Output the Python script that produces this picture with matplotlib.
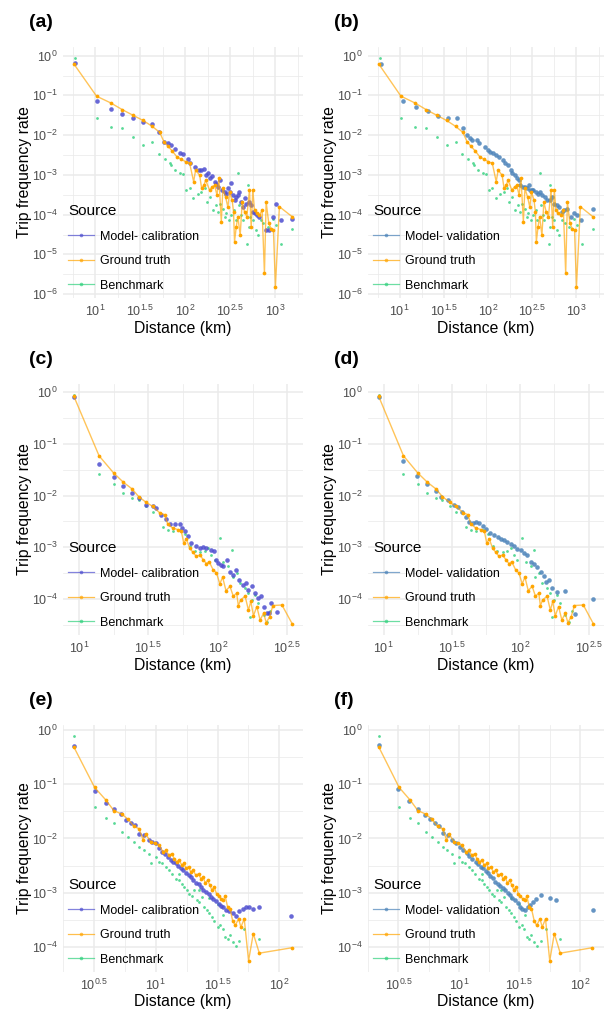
import numpy as np
import matplotlib.pyplot as plt
from matplotlib.lines import Line2D
from matplotlib.ticker import FixedLocator, FixedFormatter, NullFormatter

plt.rcParams['font.family'] = ['Liberation Sans', 'DejaVu Sans']
plt.rcParams['mathtext.fontset'] = 'custom'
plt.rcParams['mathtext.rm'] = 'Liberation Sans'
plt.rcParams['mathtext.it'] = 'Liberation Sans:italic'
plt.rcParams['mathtext.bf'] = 'Liberation Sans:bold'

# all values are log10 (distance km, trip frequency rate)

# row 1 (a, b)
gt1_x = [0.763, 1.014, 1.172, 1.301, 1.419, 1.530, 1.633, 1.715, 1.763, 1.807, 1.855, 1.908, 1.956, 2.004, 2.048,
         2.092, 2.114, 2.159, 2.181, 2.207, 2.225, 2.269, 2.299, 2.325, 2.351, 2.373, 2.399, 2.417, 2.446, 2.472,
         2.491, 2.520, 2.535, 2.546, 2.565, 2.583, 2.609, 2.631, 2.657, 2.683, 2.712, 2.731, 2.749, 2.768, 2.793,
         2.823, 2.852, 2.878, 2.897, 2.926, 2.952, 2.978, 3.000, 3.044, 3.185]
gt1_y = [-0.21, -1.02, -1.19, -1.36, -1.50, -1.63, -1.78, -1.93, -2.17, -2.28, -2.40, -2.55, -2.61, -2.67, -2.71,
         -3.17, -2.88, -3.01, -3.34, -3.26, -3.13, -3.38, -3.30, -3.26, -3.51, -3.09, -4.18, -3.34, -3.55, -3.81,
         -3.43, -3.64, -3.93, -4.68, -4.31, -4.05, -4.52, -3.68, -3.93, -4.05, -3.38, -4.31, -3.38, -3.89, -3.97,
         -4.01, -3.89, -5.48, -3.68, -4.22, -4.35, -4.39, -5.81, -3.80, -4.05]
bm1_x = [0.774, 1.014, 1.172, 1.297, 1.419, 1.530, 1.633, 1.707, 1.770, 1.826, 1.845, 1.882, 1.937, 1.974, 2.011,
         2.048, 2.085, 2.140, 2.177, 2.214, 2.240, 2.269, 2.306, 2.336, 2.362, 2.387, 2.417, 2.435, 2.454, 2.483,
         2.509, 2.539, 2.557, 2.583, 2.594, 2.620, 2.638, 2.657, 2.683, 2.690, 2.697, 2.705, 2.720, 2.749, 2.779,
         2.804, 2.841, 2.867, 2.915, 2.970, 3.007, 3.063, 3.185]
bm1_y = [-0.07, -1.58, -1.79, -1.82, -2.05, -2.26, -2.17, -2.47, -2.59, -2.70, -2.76, -2.88, -2.96, -2.98, -3.38,
         -3.34, -3.59, -3.48, -3.43, -3.34, -3.68, -3.55, -3.89, -3.76, -3.93, -3.72, -3.85, -4.05, -3.97, -4.14,
         -4.01, -3.89, -4.14, -2.96, -3.76, -4.01, -4.14, -3.93, -4.06, -4.73, -3.26, -4.31, -4.06, -4.14, -4.39,
         -4.52, -4.14, -4.22, -4.31, -4.10, -4.27, -4.73, -4.35]
mc1_x = [0.774, 1.014, 1.172, 1.297, 1.419, 1.530, 1.633, 1.707, 1.763, 1.807, 1.845, 1.882, 1.937, 1.974, 2.030,
         2.055, 2.103, 2.151, 2.177, 2.203, 2.232, 2.251, 2.269, 2.299, 2.325, 2.343, 2.362, 2.380, 2.410, 2.435,
         2.454, 2.472, 2.491, 2.509, 2.528, 2.546, 2.565, 2.583, 2.601, 2.620, 2.638, 2.657, 2.675, 2.705, 2.731,
         2.749, 2.768, 2.793, 2.823, 2.897, 2.934, 2.978, 3.007, 3.063, 3.185]
mc1_y = [-0.18, -1.14, -1.34, -1.46, -1.58, -1.67, -1.71, -1.93, -2.17, -2.21, -2.25, -2.36, -2.46, -2.48, -2.61,
         -2.70, -2.80, -2.88, -2.88, -2.86, -3.01, -2.96, -3.09, -3.03, -3.17, -3.23, -3.30, -3.13, -3.38, -3.43,
         -3.47, -3.34, -3.43, -3.20, -3.51, -3.63, -3.55, -3.51, -3.43, -3.68, -3.80, -3.59, -3.72, -3.68, -3.76,
         -3.93, -3.97, -4.01, -4.06, -4.39, -4.39, -4.06, -3.72, -4.14, -4.10]
mv1_x = [0.791, 1.037, 1.183, 1.315, 1.432, 1.542, 1.645, 1.718, 1.762, 1.799, 1.817, 1.872, 1.901, 1.963, 2.000,
         2.026, 2.055, 2.092, 2.128, 2.165, 2.194, 2.220, 2.256, 2.275, 2.304, 2.330, 2.348, 2.366, 2.392, 2.414,
         2.440, 2.458, 2.476, 2.495, 2.513, 2.538, 2.560, 2.586, 2.612, 2.641, 2.670, 2.696, 2.722, 2.751, 2.780,
         2.806, 2.832, 2.861, 2.897, 2.934, 2.971, 3.007, 3.051, 3.190]
mv1_y = [-0.21, -1.14, -1.29, -1.39, -1.51, -1.56, -1.58, -1.82, -2.00, -2.08, -2.13, -2.11, -2.21, -2.29, -2.38,
         -2.42, -2.46, -2.50, -2.55, -2.63, -2.71, -2.75, -2.88, -2.96, -3.01, -3.09, -3.13, -3.26, -3.30, -3.30,
         -3.34, -3.26, -3.38, -3.38, -3.38, -3.43, -3.47, -3.43, -3.51, -3.55, -3.63, -3.63, -3.55, -3.72, -3.76,
         -3.80, -3.93, -3.89, -3.85, -4.05, -3.97, -4.01, -4.14, -3.85]

# row 2 (c, d)
gt2_x = [0.964, 1.145, 1.249, 1.319, 1.382, 1.430, 1.483, 1.531, 1.580, 1.616, 1.640, 1.676, 1.713, 1.737, 1.754,
         1.773, 1.797, 1.821, 1.845, 1.870, 1.894, 1.918, 1.937, 1.966, 1.990, 2.014, 2.034, 2.058, 2.087, 2.111,
         2.135, 2.147, 2.164, 2.196, 2.220, 2.237, 2.256, 2.280, 2.304, 2.329, 2.348, 2.372, 2.396, 2.461, 2.534]
gt2_y = [-0.08, -1.23, -1.56, -1.74, -1.87, -2.02, -2.13, -2.21, -2.33, -2.37, -2.56, -2.63, -2.66, -2.69, -2.92,
         -2.84, -3.02, -3.10, -3.18, -3.15, -3.24, -3.32, -3.28, -3.44, -3.50, -3.71, -3.58, -3.84, -3.76, -3.95,
         -3.89, -4.13, -4.02, -3.95, -4.22, -4.05, -4.33, -4.15, -4.41, -4.28, -4.46, -4.35, -4.13, -4.12, -4.48]
bm2_x = [0.964, 1.145, 1.249, 1.319, 1.382, 1.430, 1.483, 1.531, 1.604, 1.640, 1.676, 1.725, 1.761, 1.802, 1.833,
         1.870, 1.906, 1.930, 1.954, 1.978, 2.014, 2.039, 2.075, 2.099, 2.111, 2.135, 2.159, 2.196, 2.220, 2.232,
         2.244, 2.268, 2.292, 2.329, 2.353, 2.377]
bm2_y = [-0.06, -1.58, -1.77, -1.95, -2.05, -2.08, -2.21, -2.31, -2.60, -2.66, -2.69, -2.66, -2.74, -2.97, -3.08,
         -3.10, -3.08, -3.02, -3.15, -3.24, -2.82, -3.28, -3.37, -3.05, -3.57, -3.50, -3.70, -3.79, -3.89, -4.35,
         -4.02, -3.92, -4.08, -4.31, -4.44, -4.24]
mc2_x = [0.964, 1.145, 1.249, 1.319, 1.382, 1.430, 1.483, 1.531, 1.556, 1.592, 1.628, 1.657, 1.688, 1.725, 1.744,
         1.761, 1.785, 1.809, 1.841, 1.870, 1.894, 1.918, 1.947, 1.971, 1.990, 2.002, 2.019, 2.039, 2.063, 2.087,
         2.111, 2.130, 2.155, 2.179, 2.203, 2.220, 2.244, 2.268, 2.292, 2.309, 2.329, 2.353, 2.365, 2.382, 2.425]
mc2_y = [-0.10, -1.38, -1.64, -1.81, -1.95, -2.05, -2.18, -2.21, -2.24, -2.37, -2.45, -2.55, -2.55, -2.56, -2.63,
         -2.69, -2.79, -2.92, -2.98, -3.02, -3.00, -3.02, -3.05, -3.08, -3.24, -3.31, -3.34, -3.37, -3.24, -3.49,
         -3.53, -3.44, -3.63, -3.73, -3.70, -3.82, -3.76, -3.89, -3.99, -3.95, -4.15, -4.28, -4.28, -4.08, -4.26]
mv2_x = [0.964, 1.145, 1.247, 1.319, 1.382, 1.423, 1.471, 1.512, 1.544, 1.575, 1.604, 1.628, 1.652, 1.677, 1.701,
         1.725, 1.749, 1.778, 1.809, 1.834, 1.858, 1.882, 1.906, 1.930, 1.954, 1.978, 2.003, 2.027, 2.051, 2.075,
         2.099, 2.123, 2.148, 2.172, 2.189, 2.208, 2.232, 2.268, 2.329, 2.401, 2.534]
mv2_y = [-0.09, -1.34, -1.62, -1.77, -1.92, -2.02, -2.09, -2.18, -2.22, -2.31, -2.42, -2.51, -2.53, -2.51, -2.53,
         -2.58, -2.64, -2.72, -2.76, -2.80, -2.85, -2.87, -2.90, -2.93, -2.97, -3.03, -3.06, -3.11, -3.16, -3.29,
         -3.32, -3.38, -3.48, -3.55, -3.68, -3.64, -3.80, -3.87, -3.84, -4.29, -4.01]

# row 3 (e, f)
gt3_x = [0.338, 0.505, 0.595, 0.662, 0.724, 0.778, 0.824, 0.865, 0.897, 0.919, 0.959, 0.995, 1.027, 1.059, 1.081,
         1.108, 1.130, 1.149, 1.168, 1.189, 1.211, 1.230, 1.243, 1.265, 1.284, 1.303, 1.324, 1.346, 1.365, 1.384,
         1.400, 1.419, 1.438, 1.454, 1.473, 1.492, 1.508, 1.527, 1.546, 1.562, 1.581, 1.600, 1.622, 1.643, 1.670,
         1.689, 1.716, 1.751, 1.789, 1.838, 2.103]
gt3_y = [-0.32, -1.06, -1.29, -1.49, -1.55, -1.65, -1.78, -1.82, -2.02, -1.92, -2.06, -2.09, -2.12, -2.25, -2.22,
         -2.31, -2.28, -2.37, -2.43, -2.40, -2.49, -2.46, -2.55, -2.52, -2.62, -2.58, -2.68, -2.65, -2.74, -2.71,
         -2.82, -2.77, -2.86, -2.95, -2.89, -3.02, -3.06, -3.11, -3.14, -3.06, -3.26, -3.29, -3.51, -3.60, -3.48,
         -3.63, -3.48, -4.25, -3.75, -4.11, -4.01]
bm3_x = [0.338, 0.505, 0.595, 0.662, 0.724, 0.778, 0.824, 0.865, 0.905, 0.946, 0.959, 1.000, 1.027, 1.054, 1.081,
         1.108, 1.135, 1.162, 1.189, 1.211, 1.230, 1.249, 1.270, 1.292, 1.311, 1.330, 1.351, 1.373, 1.392, 1.411,
         1.432, 1.454, 1.473, 1.500, 1.519, 1.541, 1.562, 1.581, 1.600, 1.622, 1.649, 1.676, 1.716, 1.832,
         1.189, 1.351, 1.432, 1.500, 1.546]
bm3_y = [-0.12, -1.43, -1.63, -1.72, -1.88, -1.98, -2.06, -2.15, -2.22, -2.28, -2.45, -2.34, -2.43, -2.46, -2.52,
         -2.58, -2.65, -2.74, -2.77, -2.83, -2.89, -2.95, -3.02, -3.05, -2.95, -3.14, -3.17, -3.08, -3.26, -3.32,
         -3.38, -3.45, -3.51, -3.63, -3.60, -3.66, -3.82, -3.85, -3.78, -3.91, -3.97, -3.88, -3.66, -3.85,
         -2.65, -2.95, -3.10, -3.20, -3.40]
mc3_x = [0.338, 0.505, 0.595, 0.662, 0.716, 0.762, 0.797, 0.832, 0.865, 0.905, 0.946, 0.973, 1.000, 1.027, 1.054,
         1.076, 1.103, 1.122, 1.141, 1.162, 1.184, 1.203, 1.222, 1.243, 1.265, 1.284, 1.303, 1.324, 1.346, 1.365,
         1.384, 1.405, 1.427, 1.446, 1.465, 1.486, 1.508, 1.527, 1.546, 1.568, 1.595, 1.622, 1.649, 1.676, 1.703,
         1.730, 1.757, 1.789, 1.838, 2.095]
mc3_y = [-0.30, -1.13, -1.34, -1.46, -1.55, -1.67, -1.72, -1.75, -1.91, -1.94, -2.03, -2.06, -2.09, -2.18, -2.25,
         -2.28, -2.34, -2.39, -2.43, -2.46, -2.51, -2.55, -2.58, -2.63, -2.68, -2.71, -2.77, -2.82, -2.84, -2.89,
         -2.95, -2.98, -3.02, -3.08, -3.11, -3.15, -3.20, -3.25, -3.27, -3.31, -3.34, -3.38, -3.42, -3.34, -3.29,
         -3.26, -3.26, -3.29, -3.27, -3.42]
mv3_x = [0.337, 0.500, 0.590, 0.663, 0.717, 0.758, 0.799, 0.834, 0.867, 0.908, 0.943, 0.976, 1.008, 1.035, 1.063,
         1.084, 1.111, 1.139, 1.160, 1.179, 1.198, 1.220, 1.242, 1.261, 1.280, 1.302, 1.323, 1.342, 1.361, 1.383,
         1.405, 1.424, 1.443, 1.465, 1.486, 1.505, 1.524, 1.546, 1.568, 1.587, 1.614, 1.641, 1.682, 1.750, 1.804,
         2.111]
mv3_y = [-0.28, -1.09, -1.31, -1.45, -1.56, -1.64, -1.72, -1.78, -1.90, -1.93, -2.02, -2.09, -2.15, -2.21, -2.26,
         -2.33, -2.38, -2.43, -2.47, -2.52, -2.55, -2.59, -2.64, -2.69, -2.73, -2.80, -2.83, -2.88, -2.92, -2.95,
         -3.01, -3.04, -3.09, -3.14, -3.19, -3.26, -3.29, -3.31, -3.27, -3.23, -3.17, -3.12, -3.04, -3.10, -3.14,
         -3.32]

# tick exponents
row1_xticks = [1, 1.5, 2, 2.5, 3]
row2_xticks = [1, 1.5, 2, 2.5]
row3_xticks = [0.5, 1, 1.5, 2]
row1_yticks = [0, -1, -2, -3, -4, -5, -6]
row23_yticks = [0, -1, -2, -3, -4]

COL_CAL = '#4E4ECF'
COL_VAL = '#4A82B9'
COL_GT = '#FFA500'
COL_BM = '#2FD07C'
GRID = '#EBEBEB'
TXT = '#4D4D4D'


def exp_label(e):
    if float(e).is_integer():
        return r'$10^{%d}$' % int(e)
    return r'$10^{%.1f}$' % e


def panel(ax, tag, mname, mcol, mx, my, gx, gy, bx, by, xt, yt):
    ax.plot(10 ** np.array(bx), 10 ** np.array(by), 'o', ms=2.0, color=COL_BM, alpha=0.8, mec='none', zorder=3)
    ax.plot(10 ** np.array(mx), 10 ** np.array(my), 'o', ms=3.3, color=mcol, alpha=0.85, mec='none', zorder=4)
    ax.plot(10 ** np.array(gx), 10 ** np.array(gy), '-', lw=1.0, color=COL_GT, alpha=0.65, zorder=5)
    ax.plot(10 ** np.array(gx), 10 ** np.array(gy), 'o', ms=2.7, color=COL_GT, mec='none', zorder=5)
    ax.set_xscale('log')
    ax.set_yscale('log')
    ax.margins(0.05)

    xt = np.array(xt, dtype=float)
    yt = np.array(yt, dtype=float)
    ax.xaxis.set_major_locator(FixedLocator(10 ** xt))
    ax.xaxis.set_major_formatter(FixedFormatter([exp_label(v) for v in xt]))
    xm = np.arange(xt.min() - 0.25, xt.max() + 0.3, 0.5)
    ax.xaxis.set_minor_locator(FixedLocator(10 ** xm))
    ax.xaxis.set_minor_formatter(NullFormatter())
    ax.yaxis.set_major_locator(FixedLocator(10 ** yt))
    ax.yaxis.set_major_formatter(FixedFormatter([exp_label(v) for v in yt]))
    ym = np.arange(yt.min() - 0.5, yt.max() + 0.6, 1.0)
    ax.yaxis.set_minor_locator(FixedLocator(10 ** ym))
    ax.yaxis.set_minor_formatter(NullFormatter())

    ax.grid(True, which='major', color=GRID, lw=1.1, zorder=0)
    ax.grid(True, which='minor', color=GRID, lw=0.55, zorder=0)
    ax.set_axisbelow(True)
    for s in ax.spines.values():
        s.set_visible(False)
    ax.tick_params(which='both', length=0, labelsize=9, labelcolor=TXT)
    ax.tick_params(axis='x', pad=4)
    ax.tick_params(axis='y', pad=4)

    ax.set_xlabel('Distance (km)', fontsize=11.3)
    ax.set_ylabel('Trip frequency rate', fontsize=11.3)
    ax.xaxis.set_label_coords(0.5, -0.09)
    ax.yaxis.set_label_coords(-0.13, 0.5)

    handles = [Line2D([0], [0], color=mcol, lw=0.9, alpha=0.7, marker='o', ms=2.6, mec='none'),
               Line2D([0], [0], color=COL_GT, lw=0.9, alpha=0.7, marker='o', ms=2.6, mec='none'),
               Line2D([0], [0], color=COL_BM, lw=0.9, alpha=0.7, marker='o', ms=2.6, mec='none')]
    leg = ax.legend(handles, [mname, 'Ground truth', 'Benchmark'], title='Source', loc='lower left',
                    bbox_to_anchor=(-0.005, 0.0), frameon=False, fontsize=9, title_fontsize=11,
                    handlelength=2.1, handletextpad=0.45, labelspacing=1.0, borderpad=0.3,
                    borderaxespad=0.2, alignment='left')
    leg._legend_box.sep = 9
    leg.set_zorder(10)

    pos = ax.get_position()
    ax.figure.text(pos.x0 - 0.055, pos.y1 + 0.024, tag, fontsize=14, fontweight='bold',
                   ha='left', va='center')


fig = plt.figure(figsize=(6.15, 10.13), dpi=100)
W, H = 615.0, 1013.0
rows = [(47, 251), (384, 251), (725, 247)]
cols = [(63, 240), (368, 236)]


def make_ax(r, c):
    top, h = rows[r]
    left, w = cols[c]
    return fig.add_axes([left / W, (H - top - h) / H, w / W, h / H])


panel(make_ax(0, 0), '(a)', 'Model- calibration', COL_CAL, mc1_x, mc1_y, gt1_x, gt1_y, bm1_x, bm1_y,
      row1_xticks, row1_yticks)
panel(make_ax(0, 1), '(b)', 'Model- validation', COL_VAL, mv1_x, mv1_y, gt1_x, gt1_y, bm1_x, bm1_y,
      row1_xticks, row1_yticks)
panel(make_ax(1, 0), '(c)', 'Model- calibration', COL_CAL, mc2_x, mc2_y, gt2_x, gt2_y, bm2_x, bm2_y,
      row2_xticks, row23_yticks)
panel(make_ax(1, 1), '(d)', 'Model- validation', COL_VAL, mv2_x, mv2_y, gt2_x, gt2_y, bm2_x, bm2_y,
      row2_xticks, row23_yticks)
panel(make_ax(2, 0), '(e)', 'Model- calibration', COL_CAL, mc3_x, mc3_y, gt3_x, gt3_y, bm3_x, bm3_y,
      row3_xticks, row23_yticks)
panel(make_ax(2, 1), '(f)', 'Model- validation', COL_VAL, mv3_x, mv3_y, gt3_x, gt3_y, bm3_x, bm3_y,
      row3_xticks, row23_yticks)

fig.savefig('out.png', dpi=100, facecolor='white')
